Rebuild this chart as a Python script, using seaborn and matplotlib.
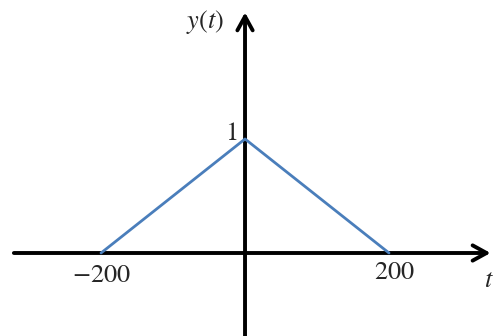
import matplotlib
matplotlib.use("Agg")
import matplotlib.pyplot as plt
import seaborn as sns
import pandas as pd

# triangle pulse y(t)
t_vals = [-200, 0, 200]
y_vals = [0, 1, 0]
tick_labels = ["$-200$", "$200$"]

sns.set_style("white")
plt.rcParams["mathtext.fontset"] = "stix"

df = pd.DataFrame({"t": t_vals, "y": y_vals})

fig = plt.figure(figsize=(4.94, 3.36), dpi=100)
ax = fig.add_axes([0, 0, 1, 1])
ax.set_xlim(-340.3, 345.8)
ax.set_ylim(-0.728, 2.219)
ax.axis("off")

# axes with open arrowheads
arrow = dict(arrowstyle="->,head_length=1.0,head_width=0.55", lw=2.8, color="black",
             shrinkA=0, shrinkB=0)
ax.annotate("", xy=(341, 0), xytext=(-321, 0), arrowprops=arrow)
ax.annotate("", xy=(0, 2.11), xytext=(0, -0.75), arrowprops=arrow)

sns.lineplot(data=df, x="t", y="y", ax=ax, color="#4a7ebb", lw=2.0, zorder=3)

fs = 19
ax.text(-56, 2.03, "$y(t)$", fontsize=fs, ha="center", va="center")
ax.text(-19, 1.05, "$1$", fontsize=fs, ha="center", va="center")
ax.text(t_vals[0], -0.19, tick_labels[0], fontsize=fs, ha="center", va="center")
ax.text(t_vals[2] + 7, -0.17, tick_labels[1], fontsize=fs, ha="center", va="center")
ax.text(339, -0.24, "$t$", fontsize=fs, ha="center", va="center")

fig.savefig("out.png", dpi=100)
